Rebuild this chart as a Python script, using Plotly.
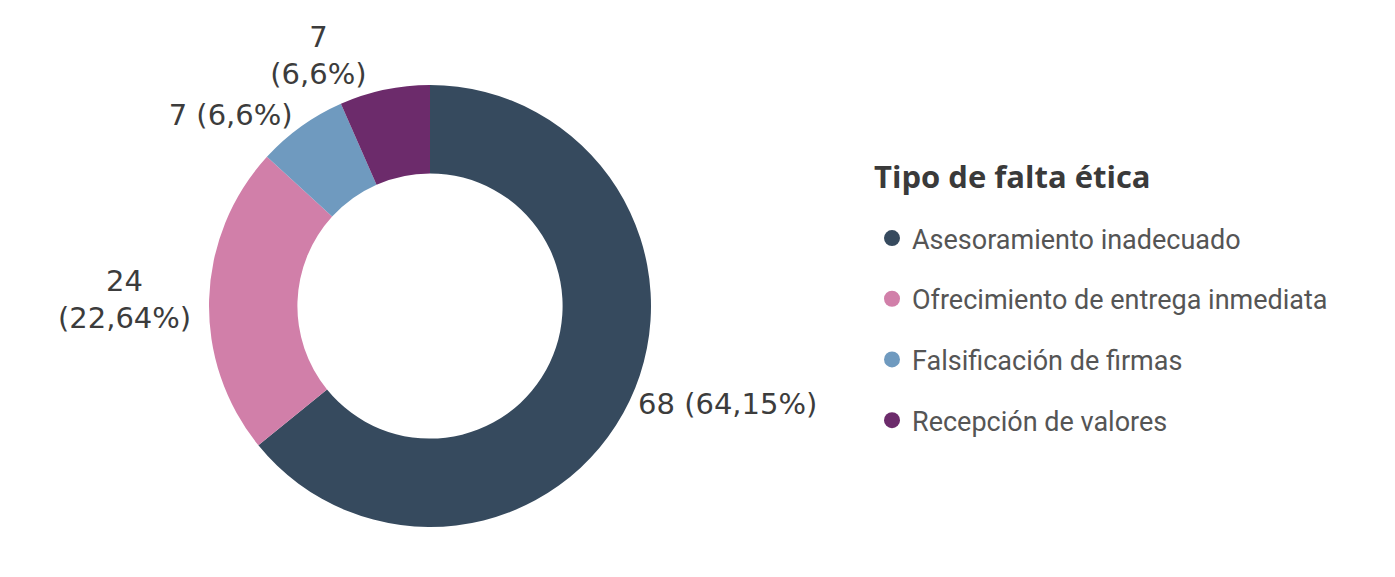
import plotly.graph_objects as go

categories = ["Asesoramiento inadecuado", "Ofrecimiento de entrega inmediata",
              "Falsificación de firmas", "Recepción de valores"]
values = [68, 24, 7, 7]
colors = ["#364A5E", "#D17FA9", "#6F9ABF", "#6C2B6B"]
label_templates = ["%{value} (%{percent:.2~%})", "%{value}<br>(%{percent:.2~%})",
                   "%{value} (%{percent:.2~%})", "%{value}<br>(%{percent:.2~%})"]
legend_title = "Tipo de falta ética"

W, H = 1395, 577
# page body adds an 8px offset; positions below are in figure pixels
cx, cy, r = 422, 298, 221

fig = go.Figure()
fig.add_trace(go.Pie(
    labels=categories, values=values, hole=0.6, sort=False, direction="clockwise",
    rotation=0, marker=dict(colors=colors, line=dict(width=0)),
    texttemplate=label_templates, textposition="outside",
    outsidetextfont=dict(family="DejaVu Sans", size=29, color="#3c3c3c"),
    showlegend=False, hoverinfo="label+value+percent",
    domain=dict(x=[(cx - r) / W, (cx + r) / W], y=[1 - (cy + r) / H, 1 - (cy - r) / H]),
))
for name, col in zip(categories, colors):
    fig.add_trace(go.Scatter(
        x=[None], y=[None], mode="markers", name=name, legendgroup=name,
        marker=dict(color=col, size=16, symbol="circle"), showlegend=True,
    ))

fig.update_layout(
    width=W, height=H, margin=dict(l=0, r=0, t=0, b=0),
    paper_bgcolor="white", plot_bgcolor="white",
    separators=",.",
    xaxis=dict(visible=False), yaxis=dict(visible=False),
    legend=dict(
        title=dict(text='<span style="font-size:31px"><b>' + legend_title + '</b></span><br> ',
                   font=dict(family="Open Sans", size=20, color="#3a3a3a")),
        font=dict(family="Roboto", size=27, color="#555555"),
        x=864 / W, xanchor="left", y=1 - 154 / H, yanchor="top",
        traceorder="grouped", tracegroupgap=22.6, bgcolor="rgba(0,0,0,0)",
    ),
)
fig.write_html("out.html")
